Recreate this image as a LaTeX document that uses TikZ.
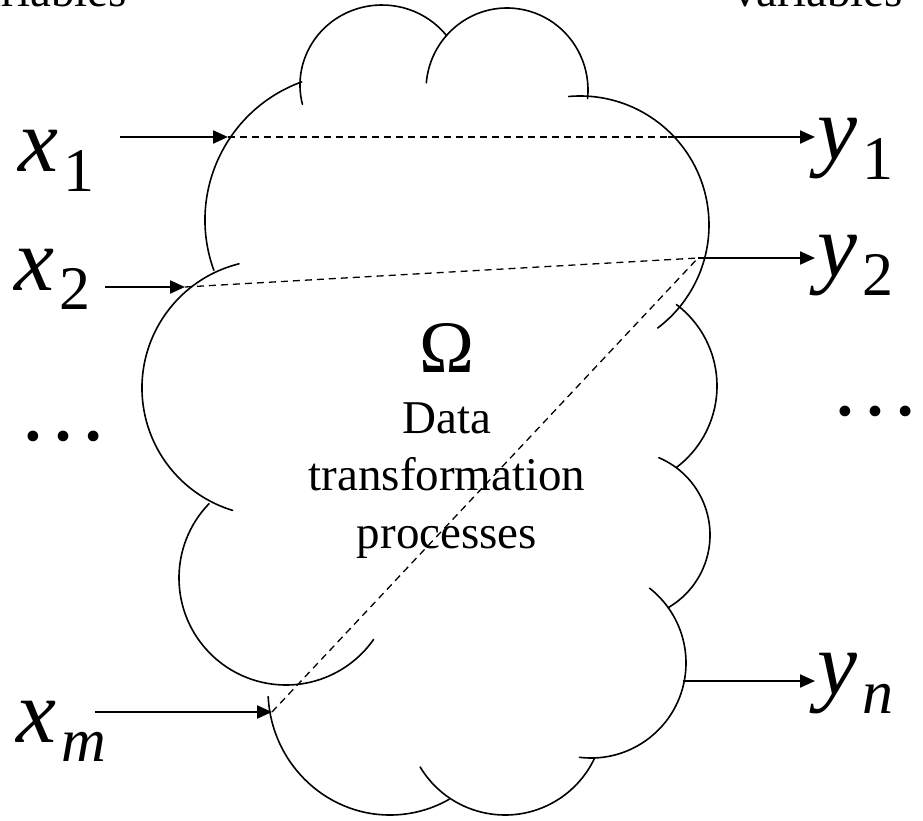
\documentclass[tikz,border=0pt]{standalone}
\usepackage{fontspec}
\setmainfont{Liberation Serif}
\usetikzlibrary{arrows.meta,calc}

% Cloud lobe: elliptical arc given centre, radii and math angles (y axis points down)
\newcommand{\lobe}[5]{%
  \draw[cloudline] ($(#1)+({#2*cos(#4)},{-#3*sin(#4)})$)
    arc[start angle={-#4}, end angle={-#5}, x radius=#2, y radius=#3];}

\tikzset{
  cloudline/.style={line width=1.6pt, line cap=round},
  flowarrow/.style={line width=2.2pt, -{Triangle[length=15pt,width=13pt]}},
  hidden/.style={line width=1.3pt, dash pattern=on 7pt off 5pt},
  varlabel/.style={inner sep=0pt, font=\fontsize{90}{90}\selectfont},
  bodytext/.style={inner sep=0pt, font=\fontsize{47}{47}\selectfont},
}

\newcommand{\sub}[1]{\kern0.06em\raisebox{-0.22em}{\fontsize{62}{62}\selectfont #1}}

\begin{document}
\begin{tikzpicture}[x=1pt, y=-1pt]
\useasboundingbox (0,0) rectangle (923,821);
\clip (0,0) rectangle (923,821);
\fill[white] (0,0) rectangle (923,821);

% headings, cut by the top edge
\node[bodytext, anchor=base east] (inhead) at (127,7) {Input variables};
\node[bodytext, anchor=base west] (outhead) at (733,7) {variables};

% cloud outline made of overlapping lobes
\lobe{382,85}{82}{80}{194}{38}
\lobe{507,90}{81}{82}{175}{-6}
\lobe{580,225}{129}{129}{95}{-53}
\lobe{352,220}{147}{147}{110}{200}
\lobe{270,388}{128}{128}{104}{253}
\lobe{286,578}{107}{107}{136}{325}
\lobe{390,690}{122}{125}{183}{299}
\lobe{505,716}{99}{99}{211}{335}
\lobe{591,663}{95}{95}{-97}{52}
\lobe{626,535}{84}{84}{67}{-60}
\lobe{615,386}{102}{102}{53}{-53}

% text inside the cloud
\node[inner sep=0pt, anchor=base, font=\fontsize{74}{74}\selectfont] (omega) at (447,372) {Ω};
\node[bodytext, anchor=base] (t1) at (447,433) {Data};
\node[bodytext, anchor=base] (t2) at (447,490) {transformation};
\node[bodytext, anchor=base] (t3) at (447,548) {processes};

% input and output labels
\node[varlabel, anchor=base west] (x1) at (18,172) {\itshape x\upshape\sub{1}};
\node[varlabel, anchor=base west] (x2) at (14,290) {\itshape x\upshape\sub{2}};
\node[varlabel, anchor=base west] (xm) at (16,742) {\itshape x\sub{m}};
\node[varlabel, anchor=base west] (y1) at (817,160) {\itshape y\upshape\sub{1}};
\node[varlabel, anchor=base west] (y2) at (817,276) {\itshape y\upshape\sub{2}};
\node[varlabel, anchor=base west] (yn) at (817,694) {\itshape y\sub{n}};
\node[varlabel, anchor=base west] (ldots) at (18,440) {…};
\node[varlabel, anchor=base west] (rdots) at (830,415) {…};

% arrow end points
\coordinate (s1) at (120,137);  \coordinate (e1) at (228,137);
\coordinate (s2) at (105,287);  \coordinate (e2) at (185,287);
\coordinate (sm) at (95,712);   \coordinate (em) at (272,712);
\coordinate (o1) at (668,137);  \coordinate (f1) at (815,137);
\coordinate (o2) at (698,258);  \coordinate (f2) at (815,258);
\coordinate (on) at (683,681);  \coordinate (fn) at (815,681);
\coordinate (d1) at (675,137);

% hidden paths through the cloud
\draw[hidden] (e1) -- (d1);
\draw[hidden] (e2) -- (o2);
\draw[hidden] (em) -- (o2);

% inputs and outputs
\draw[flowarrow] (s1) -- (e1);
\draw[flowarrow] (s2) -- (e2);
\draw[flowarrow] (sm) -- (em);
\draw[flowarrow] (o1) -- (f1);
\draw[flowarrow] (o2) -- (f2);
\draw[flowarrow] (on) -- (fn);
\end{tikzpicture}
\end{document}
